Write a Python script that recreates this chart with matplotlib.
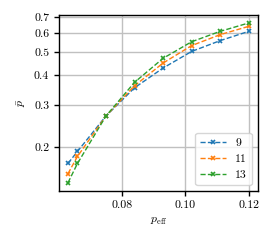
import numpy as np
import matplotlib
matplotlib.use("Agg")
import matplotlib.pyplot as plt
from matplotlib.ticker import FixedLocator, FixedFormatter, NullLocator

plt.rcParams['font.family'] = 'serif'
plt.rcParams['font.serif'] = ['cmr10']
plt.rcParams['mathtext.fontset'] = 'cm'
plt.rcParams['axes.formatter.use_mathtext'] = True
plt.rcParams['font.size'] = 8.5

# effective error rate
p_eff = [0.063, 0.066, 0.075, 0.084, 0.093, 0.102, 0.111, 0.120]
# mean logical failure for each code distance
p_bar_9 = [0.171, 0.192, 0.270, 0.354, 0.428, 0.502, 0.557, 0.609]
p_bar_11 = [0.155, 0.183, 0.270, 0.361, 0.449, 0.531, 0.590, 0.639]
p_bar_13 = [0.142, 0.171, 0.270, 0.373, 0.470, 0.551, 0.609, 0.660]
labels = ["9", "11", "13"]
yticks = [0.2, 0.3, 0.4, 0.5, 0.6, 0.7]
xticks = [0.08, 0.10, 0.12]

fig = plt.figure(figsize=(2.74, 2.44), dpi=100)
ax = fig.add_axes([0.215, 0.218, 0.7255, 0.7205])

for ys, lab in zip([p_bar_9, p_bar_11, p_bar_13], labels):
    ax.plot(p_eff, ys, ls='--', marker='x', ms=3, mew=1.2, lw=1, label=lab)

ax.set_yscale('log')
ax.yaxis.set_major_locator(FixedLocator(yticks))
ax.yaxis.set_major_formatter(FixedFormatter([f"{t:.1f}" for t in yticks]))
ax.yaxis.set_minor_locator(NullLocator())
ax.set_xticks(xticks)
ax.set_xticklabels([f"{t:.2f}" for t in xticks])
ax.grid(True, color='#c0c0c0', lw=1)
ax.set_axisbelow(True)
for s in ax.spines.values():
    s.set_linewidth(1)
ax.tick_params(length=3.5, width=1)

ax.set_xlabel(r'$p_{\rm eff}$')
ax.set_ylabel(r'$\bar{p}$')
ax.legend(loc='lower right', fontsize=8.5, handlelength=2.2)

fig.savefig("out.png", dpi=100)
